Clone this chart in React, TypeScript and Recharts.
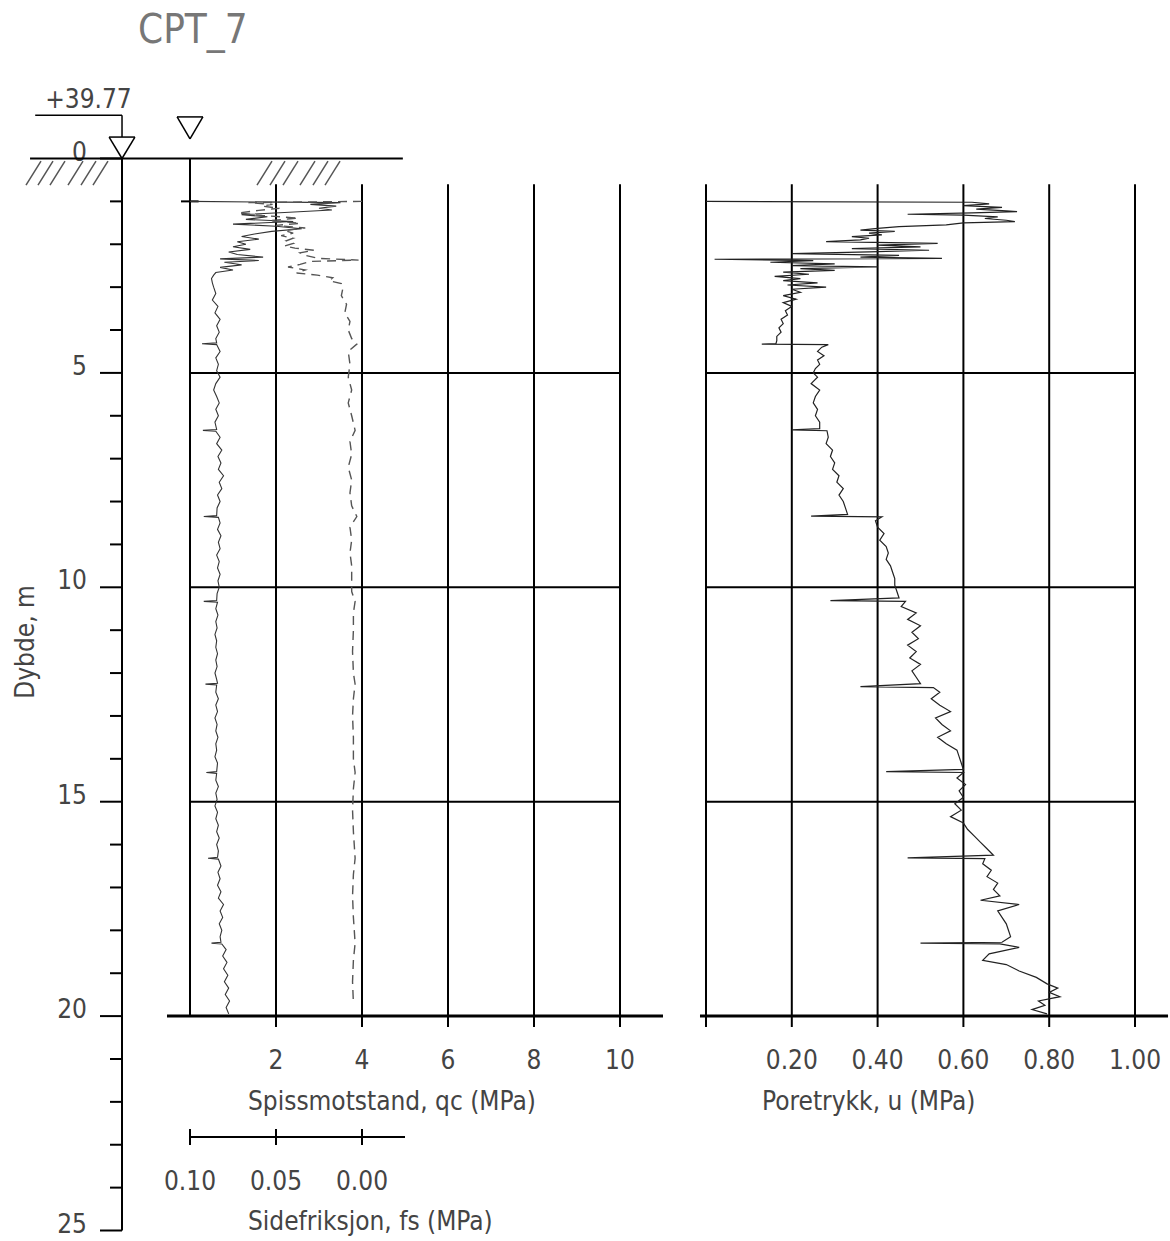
import React from "react";
import { LineChart, Line, XAxis, YAxis, ReferenceLine } from "recharts";

const FONT = "'Liberation Sans Narrow', 'DejaVu Sans Condensed', sans-serif";
const INK = "#444";

const title = "CPT_7";
const elevation = "+39.77";

const depthTicks = [0, 1, 2, 3, 4, 5, 6, 7, 8, 9, 10, 11, 12, 13, 14, 15, 16, 17, 18, 19, 20, 21, 22, 23, 24, 25];
const qcTicks = [2, 4, 6, 8, 10];
const fsTicks = [0.1, 0.05, 0];
const uTicks = [0, 0.2, 0.4, 0.6, 0.8, 1];
const gridDepths = [5, 10, 15];

// [depth m, qc MPa]
const qcProfile: [number, number][] = [
  [1.0, 0], [1.03, 3.5], [1.07, 2.8], [1.11, 3.4], [1.16, 3.0], [1.2, 3.3], [1.26, 2.2],
  [1.31, 1.2], [1.36, 1.8], [1.42, 1.3], [1.47, 2.4], [1.53, 1.0], [1.58, 2.0], [1.64, 2.6],
  [1.7, 1.9], [1.76, 1.5], [1.82, 1.2], [1.88, 1.6], [1.94, 1.1], [2.0, 1.3], [2.06, 1.0],
  [2.12, 1.4], [2.18, 0.9], [2.24, 1.1], [2.3, 1.7], [2.34, 0.7], [2.38, 1.6], [2.42, 0.8],
  [2.48, 1.2], [2.54, 0.7], [2.6, 1.0], [2.66, 0.6], [2.72, 0.55], [2.8, 0.5], [2.9, 0.52],
  [3.0, 0.55], [3.15, 0.6], [3.3, 0.52], [3.45, 0.65], [3.6, 0.58], [3.75, 0.7], [3.9, 0.62],
  [4.05, 0.68], [4.2, 0.6], [4.3, 0.62], [4.32, 0.28], [4.34, 0.62], [4.5, 0.7], [4.65, 0.6],
  [4.8, 0.66], [4.95, 0.62], [5.1, 0.7], [5.25, 0.6], [5.4, 0.55], [5.55, 0.62], [5.7, 0.68],
  [5.85, 0.6], [6.0, 0.66], [6.15, 0.58], [6.32, 0.62], [6.34, 0.3], [6.36, 0.6], [6.5, 0.7],
  [6.65, 0.62], [6.8, 0.74], [6.95, 0.65], [7.1, 0.72], [7.25, 0.66], [7.4, 0.78], [7.55, 0.68],
  [7.7, 0.74], [7.85, 0.64], [8.0, 0.7], [8.15, 0.63], [8.33, 0.62], [8.35, 0.32], [8.37, 0.66],
  [8.5, 0.7], [8.65, 0.64], [8.8, 0.72], [8.95, 0.66], [9.1, 0.7], [9.25, 0.62], [9.4, 0.68],
  [9.55, 0.64], [9.7, 0.7], [9.85, 0.65], [10.0, 0.68], [10.15, 0.63], [10.31, 0.62],
  [10.33, 0.32], [10.35, 0.64], [10.5, 0.6], [10.65, 0.65], [10.8, 0.6], [10.95, 0.63],
  [11.1, 0.58], [11.25, 0.62], [11.4, 0.6], [11.55, 0.64], [11.7, 0.6], [11.85, 0.63],
  [12.0, 0.58], [12.15, 0.62], [12.24, 0.64], [12.26, 0.36], [12.28, 0.62], [12.45, 0.6],
  [12.6, 0.66], [12.75, 0.6], [12.9, 0.64], [13.05, 0.58], [13.2, 0.63], [13.35, 0.6],
  [13.5, 0.65], [13.65, 0.6], [13.8, 0.62], [13.95, 0.58], [14.1, 0.64], [14.3, 0.62],
  [14.32, 0.38], [14.34, 0.62], [14.5, 0.6], [14.65, 0.66], [14.8, 0.6], [14.95, 0.63],
  [15.1, 0.58], [15.25, 0.64], [15.4, 0.6], [15.55, 0.66], [15.7, 0.62], [15.85, 0.68],
  [16.0, 0.62], [16.15, 0.66], [16.3, 0.64], [16.32, 0.42], [16.34, 0.66], [16.5, 0.72],
  [16.65, 0.65], [16.8, 0.7], [16.95, 0.64], [17.1, 0.72], [17.25, 0.66], [17.4, 0.78],
  [17.55, 0.7], [17.7, 0.76], [17.85, 0.68], [18.0, 0.74], [18.15, 0.7], [18.28, 0.72],
  [18.3, 0.5], [18.32, 0.74], [18.45, 0.84], [18.6, 0.76], [18.75, 0.86], [18.9, 0.78],
  [19.05, 0.88], [19.2, 0.8], [19.35, 0.9], [19.5, 0.82], [19.65, 0.92], [19.8, 0.84],
  [19.95, 0.9],
];

// [depth m, fs MPa]
const fsProfile: [number, number][] = [
  [1.0, 0], [1.03, 0.066], [1.07, 0.052], [1.11, 0.058], [1.16, 0.048], [1.21, 0.06],
  [1.27, 0.072], [1.33, 0.058], [1.39, 0.037], [1.45, 0.054], [1.51, 0.036], [1.56, 0.05],
  [1.62, 0.033], [1.68, 0.045], [1.74, 0.04], [1.8, 0.047], [1.86, 0.04], [1.92, 0.044],
  [1.98, 0.04], [2.04, 0.045], [2.09, 0.039], [2.14, 0.028], [2.2, 0.036], [2.26, 0.033],
  [2.33, 0.025], [2.37, 0.002], [2.4, 0.03], [2.47, 0.036], [2.53, 0.043], [2.6, 0.033],
  [2.67, 0.038], [2.72, 0.026], [2.78, 0.017], [2.85, 0.019], [2.92, 0.012], [3.0, 0.011],
  [3.2, 0.012], [3.4, 0.009], [3.6, 0.01], [3.8, 0.007], [4.0, 0.008], [4.2, 0.006],
  [4.33, 0.003], [4.5, 0.008], [4.8, 0.007], [5.1, 0.008], [5.4, 0.006], [5.7, 0.008],
  [6.0, 0.006], [6.34, 0.004], [6.6, 0.007], [6.9, 0.006], [7.2, 0.008], [7.5, 0.006],
  [7.8, 0.007], [8.1, 0.006], [8.35, 0.003], [8.6, 0.007], [8.9, 0.006], [9.2, 0.007],
  [9.5, 0.006], [9.8, 0.006], [10.1, 0.006], [10.33, 0.004], [10.6, 0.005], [11.0, 0.005],
  [11.5, 0.0055], [12.0, 0.005], [12.26, 0.004], [12.6, 0.005], [13.0, 0.0055], [13.5, 0.005],
  [14.0, 0.005], [14.32, 0.004], [14.7, 0.005], [15.2, 0.0055], [15.7, 0.005], [16.32, 0.004],
  [16.7, 0.005], [17.2, 0.0055], [17.7, 0.005], [18.3, 0.004], [18.7, 0.005], [19.2, 0.0055],
  [19.7, 0.005],
];

// [depth m, u MPa]
const uProfile: [number, number][] = [
  [1.0, 0], [1.02, 0.62], [1.06, 0.66], [1.1, 0.6], [1.14, 0.69], [1.18, 0.63], [1.22, 0.7],
  [1.24, 0.725], [1.27, 0.62], [1.3, 0.47], [1.32, 0.6], [1.36, 0.68], [1.4, 0.65], [1.44, 0.7],
  [1.47, 0.72], [1.5, 0.6], [1.55, 0.56], [1.59, 0.45], [1.63, 0.4], [1.67, 0.36], [1.7, 0.44],
  [1.74, 0.38], [1.78, 0.41], [1.82, 0.34], [1.86, 0.38], [1.9, 0.36], [1.94, 0.28],
  [1.98, 0.54], [2.02, 0.4], [2.06, 0.5], [2.1, 0.34], [2.14, 0.52], [2.18, 0.38], [2.22, 0.2],
  [2.26, 0.45], [2.3, 0.36], [2.33, 0.55], [2.35, 0.02], [2.38, 0.25], [2.42, 0.15], [2.46, 0.3],
  [2.5, 0.2], [2.53, 0.4], [2.57, 0.22], [2.61, 0.3], [2.65, 0.18], [2.7, 0.24], [2.75, 0.16],
  [2.8, 0.22], [2.85, 0.18], [2.9, 0.26], [2.95, 0.19], [3.0, 0.28], [3.05, 0.2], [3.12, 0.22],
  [3.2, 0.18], [3.28, 0.21], [3.36, 0.18], [3.45, 0.2], [3.55, 0.185], [3.65, 0.19],
  [3.75, 0.175], [3.85, 0.18], [3.95, 0.17], [4.05, 0.175], [4.15, 0.165], [4.25, 0.165],
  [4.32, 0.163], [4.33, 0.13], [4.34, 0.285], [4.4, 0.27], [4.5, 0.26], [4.6, 0.275],
  [4.7, 0.26], [4.8, 0.265], [4.9, 0.255], [5.0, 0.25], [5.1, 0.26], [5.25, 0.245],
  [5.4, 0.265], [5.55, 0.255], [5.7, 0.25], [5.85, 0.26], [6.0, 0.255], [6.15, 0.265],
  [6.3, 0.265], [6.33, 0.2], [6.35, 0.282], [6.5, 0.285], [6.65, 0.28], [6.8, 0.295],
  [6.95, 0.29], [7.1, 0.3], [7.25, 0.295], [7.4, 0.31], [7.55, 0.305], [7.7, 0.32],
  [7.85, 0.31], [8.0, 0.32], [8.15, 0.325], [8.3, 0.33], [8.34, 0.245], [8.36, 0.41],
  [8.45, 0.395], [8.6, 0.4], [8.75, 0.415], [8.9, 0.405], [9.05, 0.42], [9.2, 0.425],
  [9.35, 0.42], [9.5, 0.43], [9.65, 0.435], [9.8, 0.44], [9.95, 0.44], [10.1, 0.445],
  [10.25, 0.45], [10.31, 0.29], [10.33, 0.465], [10.45, 0.455], [10.6, 0.49], [10.75, 0.47],
  [10.9, 0.5], [11.05, 0.48], [11.2, 0.495], [11.35, 0.47], [11.5, 0.49], [11.65, 0.475],
  [11.8, 0.5], [11.95, 0.48], [12.1, 0.49], [12.25, 0.5], [12.32, 0.36], [12.34, 0.53],
  [12.45, 0.545], [12.6, 0.525], [12.75, 0.545], [12.9, 0.57], [13.05, 0.535], [13.2, 0.55],
  [13.35, 0.57], [13.5, 0.54], [13.65, 0.56], [13.8, 0.585], [13.95, 0.59], [14.1, 0.595],
  [14.25, 0.6], [14.3, 0.42], [14.32, 0.6], [14.45, 0.585], [14.6, 0.605], [14.75, 0.59],
  [14.9, 0.6], [15.05, 0.58], [15.2, 0.595], [15.35, 0.57], [15.5, 0.6], [15.65, 0.61],
  [15.8, 0.625], [15.95, 0.64], [16.1, 0.655], [16.25, 0.67], [16.31, 0.47], [16.33, 0.65],
  [16.45, 0.645], [16.6, 0.665], [16.75, 0.655], [16.9, 0.68], [17.05, 0.67], [17.2, 0.685],
  [17.3, 0.64], [17.4, 0.73], [17.55, 0.68], [17.7, 0.69], [17.85, 0.7], [18.0, 0.705],
  [18.15, 0.71], [18.28, 0.69], [18.3, 0.5], [18.32, 0.685], [18.4, 0.73], [18.55, 0.66],
  [18.7, 0.645], [18.8, 0.7], [18.95, 0.73], [19.1, 0.77], [19.25, 0.795], [19.35, 0.82],
  [19.45, 0.8], [19.55, 0.825], [19.65, 0.775], [19.75, 0.79], [19.85, 0.76], [19.95, 0.795],
];

const qcData = qcProfile.map(([depth, qc]) => ({ depth, qc }));
const fsData = fsProfile.map(([depth, fs]) => ({ depth, fs }));
const uData = uProfile.map(([depth, u]) => ({ depth, u }));
const depthAxisData = depthTicks.map((depth) => ({ depth, v: 0 }));

// sketch symbols around the ground line, in the left panel's own units (qc, depth)
const AXIS_QC = -1.581;
const LEADER_DEPTH = -1.01;
const FS_AXIS_DEPTH = 22.82;
const hatchLeft = [-3.814, -3.535, -3.256, -2.837, -2.535, -2.256];
const hatchRight = [1.558, 1.86, 2.163, 2.558, 2.86, 3.14];

// axis ids: qc must sit directly under the plot, fs below it
const QC = "a_qc";
const FS = "b_fs";

type Pt = { x: number; y: number };
const seg = (x1: number, y1: number, x2: number, y2: number): [Pt, Pt] => [
  { x: x1, y: y1 },
  { x: x2, y: y2 },
];

function DepthTick(props: any) {
  const { x, y, payload } = props;
  const major = payload.value % 5 === 0;
  return (
    <g>
      <line x1={x - (major ? 22 : 12)} x2={x} y1={y} y2={y} stroke="#000" strokeWidth={2} />
      {major && (
        <text x={x - 35} y={y + 2} textAnchor="end" fontFamily={FONT} fontSize={26} fill={INK}>
          {payload.value}
        </text>
      )}
    </g>
  );
}

function FsTick(props: any) {
  const { x, y, payload } = props;
  return (
    <g>
      <line x1={x} x2={x} y1={y - 8} y2={y + 8} stroke="#000" strokeWidth={2} />
      <text x={x} y={y + 53} textAnchor="middle" fontFamily={FONT} fontSize={26} fill={INK}>
        {payload.value.toFixed(2)}
      </text>
    </g>
  );
}

const axisTitle = (text: string, dx: number, dy: number) => (props: any) => {
  const vb = props.viewBox || { x: 0, y: 0 };
  return (
    <text x={vb.x + dx} y={vb.y + dy} fontFamily={FONT} fontSize={26} fill={INK}>
      {text}
    </text>
  );
};

const depthTitle = () => {
  const cx = 34;
  const cy = 642;
  return (
    <text x={cx} y={cy} transform={`rotate(-90 ${cx} ${cy})`} textAnchor="middle" fontFamily={FONT} fontSize={26} fill={INK}>
      Dybde, m
    </text>
  );
};

const elevationLabel = (props: any) => {
  const vb = props.viewBox || { x: 0, y: 0 };
  return (
    <text x={vb.x + 10} y={vb.y - 7} fontFamily={FONT} fontSize={26} fill={INK}>
      {elevation}
    </text>
  );
};

const tickText = { fill: INK, fontSize: 26, fontFamily: FONT };

function DepthAxis() {
  return (
    <LineChart layout="vertical" width={140} height={1241} data={depthAxisData} margin={{ top: 158.5, right: 10, bottom: 10.5, left: 0 }}>
      <XAxis type="number" domain={[0, 1]} hide />
      <YAxis
        type="number"
        dataKey="depth"
        domain={[0, 25]}
        allowDataOverflow
        ticks={depthTicks}
        interval={0}
        width={122}
        tickLine={false}
        tickSize={0}
        tickMargin={0}
        axisLine={{ stroke: "#000", strokeWidth: 2 }}
        tick={DepthTick}
        label={depthTitle}
      />
      <Line dataKey="v" stroke="none" dot={false} isAnimationActive={false} />
    </LineChart>
  );
}

function LeftPanel() {
  const black = { stroke: "#000", strokeWidth: 2, ifOverflow: "visible" as const };
  return (
    <LineChart layout="vertical" width={680} height={1241} margin={{ top: 158.5, right: 60, bottom: 0, left: 190 }}>
      <YAxis type="number" dataKey="depth" domain={[0, 20]} allowDataOverflow hide />
      <XAxis
        xAxisId={FS}
        type="number"
        domain={[-0.15, 0.1]}
        reversed
        allowDataOverflow
        ticks={fsTicks}
        interval={0}
        height={104}
        axisLine={false}
        tickLine={false}
        tickSize={0}
        tickMargin={0}
        tick={FsTick}
        label={axisTitle("Sidefriksjon, fs (MPa)", 58, 93)}
      />
      <XAxis
        xAxisId={QC}
        type="number"
        domain={[0, 10]}
        allowDataOverflow
        ticks={qcTicks}
        interval={0}
        height={121}
        axisLine={false}
        tickLine={{ stroke: "#000", strokeWidth: 2 }}
        tickSize={11}
        tickMargin={24}
        tick={tickText}
        label={axisTitle("Spissmotstand, qc (MPa)", 58, 94)}
      />

      {/* ground, elevation leader, water level symbols */}
      <ReferenceLine xAxisId={QC} segment={seg(-3.72, 0, 4.95, 0)} {...black} />
      <ReferenceLine xAxisId={QC} segment={seg(-3.6, LEADER_DEPTH, AXIS_QC, LEADER_DEPTH)} {...black} strokeWidth={1.5} label={elevationLabel} />
      <ReferenceLine xAxisId={QC} segment={seg(AXIS_QC, LEADER_DEPTH, AXIS_QC, -0.5)} {...black} strokeWidth={1.5} />
      <ReferenceLine xAxisId={QC} segment={seg(AXIS_QC - 0.3, -0.5, AXIS_QC + 0.3, -0.5)} {...black} strokeWidth={1.5} />
      <ReferenceLine xAxisId={QC} segment={seg(AXIS_QC - 0.3, -0.5, AXIS_QC, 0)} {...black} strokeWidth={1.5} />
      <ReferenceLine xAxisId={QC} segment={seg(AXIS_QC + 0.3, -0.5, AXIS_QC, 0)} {...black} strokeWidth={1.5} />
      <ReferenceLine xAxisId={QC} segment={seg(-0.3, -0.97, 0.3, -0.97)} {...black} strokeWidth={1.5} />
      <ReferenceLine xAxisId={QC} segment={seg(-0.3, -0.97, 0, -0.455)} {...black} strokeWidth={1.5} />
      <ReferenceLine xAxisId={QC} segment={seg(0.3, -0.97, 0, -0.455)} {...black} strokeWidth={1.5} />
      {[...hatchLeft, ...hatchRight].map((b) => (
        <ReferenceLine key={`h${b}`} xAxisId={QC} segment={seg(b, 0.62, b + 0.349, 0.06)} stroke="#555" strokeWidth={1.5} ifOverflow="visible" />
      ))}

      {/* panel grid */}
      <ReferenceLine xAxisId={QC} segment={seg(0, 0, 0, 20)} {...black} />
      <ReferenceLine xAxisId={QC} segment={seg(-0.21, 1.0, 0.2, 1.0)} {...black} />
      {qcTicks.map((q) => (
        <ReferenceLine key={`v${q}`} xAxisId={QC} segment={seg(q, 0.6, q, 20)} {...black} />
      ))}
      {gridDepths.map((d) => (
        <ReferenceLine key={`g${d}`} xAxisId={QC} segment={seg(0, d, 10, d)} {...black} />
      ))}
      <ReferenceLine xAxisId={QC} segment={seg(-0.535, 20, 11, 20)} {...black} strokeWidth={3} />
      <ReferenceLine xAxisId={FS} segment={seg(0.1, FS_AXIS_DEPTH, -0.025, FS_AXIS_DEPTH)} {...black} />

      <Line xAxisId={QC} data={qcData} dataKey="qc" stroke="#333" strokeWidth={1.1} dot={false} isAnimationActive={false} />
      <Line xAxisId={FS} data={fsData} dataKey="fs" stroke="#555" strokeWidth={1.4} strokeDasharray="9 6" dot={false} isAnimationActive={false} />
    </LineChart>
  );
}

function RightPanel() {
  const black = { stroke: "#000", strokeWidth: 2, ifOverflow: "visible" as const };
  return (
    <LineChart layout="vertical" width={490} height={1241} margin={{ top: 158.5, right: 35, bottom: 100, left: 26 }}>
      <YAxis type="number" dataKey="depth" domain={[0, 20]} allowDataOverflow hide />
      <XAxis
        xAxisId="u"
        type="number"
        domain={[0, 1]}
        allowDataOverflow
        ticks={uTicks}
        interval={0}
        height={125}
        axisLine={false}
        tickLine={{ stroke: "#000", strokeWidth: 2 }}
        tickSize={11}
        tickMargin={24}
        tick={tickText}
        tickFormatter={(v: number) => (v === 0 ? "" : v.toFixed(2))}
        label={axisTitle("Poretrykk, u (MPa)", 56, 94)}
      />
      {uTicks.map((u) => (
        <ReferenceLine key={`v${u}`} xAxisId="u" segment={seg(u, 0.6, u, 20)} {...black} />
      ))}
      {gridDepths.map((d) => (
        <ReferenceLine key={`g${d}`} xAxisId="u" segment={seg(0, d, 1, d)} {...black} />
      ))}
      <ReferenceLine xAxisId="u" segment={seg(-0.014, 20, 1.077, 20)} {...black} strokeWidth={3} />
      <Line xAxisId="u" data={uData} dataKey="u" stroke="#222" strokeWidth={1.2} dot={false} isAnimationActive={false} />
    </LineChart>
  );
}

export default function App() {
  return (
    <div style={{ position: "absolute", left: 0, top: 0, width: 1170, height: 1241, background: "#fff" }}>
      <div style={{ position: "absolute", left: 0, top: 0 }}>
        <DepthAxis />
      </div>
      <div style={{ position: "absolute", left: 0, top: 0 }}>
        <LeftPanel />
      </div>
      <div style={{ position: "absolute", left: 680, top: 0 }}>
        <RightPanel />
      </div>
      <div
        style={{
          position: "absolute",
          left: 138,
          top: 9,
          fontFamily: FONT,
          fontSize: 40,
          lineHeight: "40px",
          color: "#777",
        }}
      >
        {title}
      </div>
    </div>
  );
}
